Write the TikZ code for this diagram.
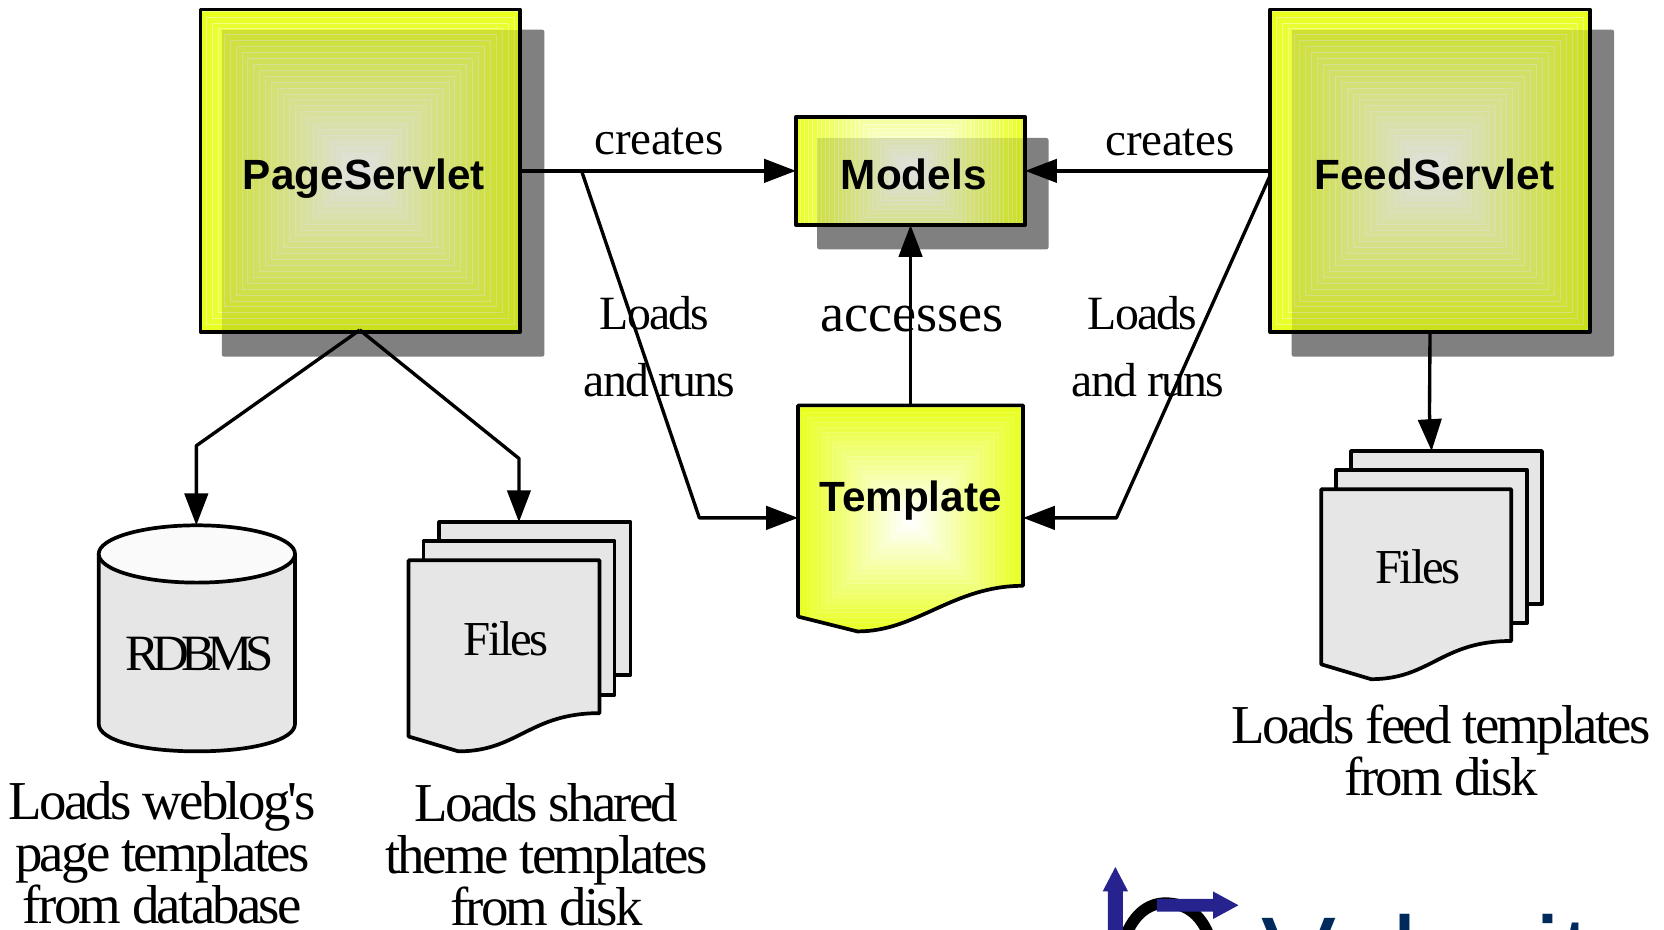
\documentclass[tikz,border=0pt]{standalone}
\usepackage{fontspec}
\newfontfamily\serfam{Liberation Serif}
\newfontfamily\boldfam{Liberation Sans}[BoldFont={Liberation Sans Bold}]
\newfontfamily\logofam{Liberation Sans}
\setmainfont{Liberation Serif}
\usetikzlibrary{arrows.meta}
\definecolor{yl}{HTML}{E8FF20}
\definecolor{shadowgray}{HTML}{808080}
\definecolor{docgray}{HTML}{E6E6E6}
\definecolor{logonavy}{HTML}{002A5C}
\definecolor{logoblue}{HTML}{26228E}
\def\u{0.6pt}
\newcommand{\serf}[3]{\serfam\fontsize{#1}{#2}\selectfont\addfontfeature{LetterSpace=#3}}
\newcommand{\gradfill}[5]{% cx, cy, half size, steps, line opacity
  \foreach \i in {0,...,#4}{%
    \pgfmathsetmacro{\hh}{#3*(1-\i/(#4+1))}%
    \pgfmathsetmacro{\pp}{100*\i/#4}%
    \fill[white!\pp!yl] ({#1-\hh},{#2-\hh}) rectangle ({#1+\hh},{#2+\hh});%
    \draw[white,opacity=#5,line width=.5pt] ({#1-\hh},{#2-\hh}) rectangle ({#1+\hh},{#2+\hh});%
  }}
\newcommand{\shadowbox}[8]{% x0 y0 x1 y1 sx0 sy0 sx1 sy1
  \fill[shadowgray,rounded corners=1.2pt] (#5,#6) rectangle (#7,#8);
  \begin{scope}
    \clip (#1,#2) rectangle (#3,#4);
    \pgfmathsetmacro{\cx}{(#1+#3)/2}\pgfmathsetmacro{\cy}{(#2+#4)/2}\pgfmathsetmacro{\hw}{(#3-#1)/2}
    \gradfill{\cx}{\cy}{\hw}{26}{.4}
    \fill[black,opacity=.12] (#5,#6) rectangle (#7,#8);
  \end{scope}
  \draw[boxline] (#1,#2) rectangle (#3,#4);
}
\newcommand{\docpath}[6]{(#1,#2) -- (#3,#2) -- (#3,#4) .. controls ({#3-66},#4) and ({#5+56},#6) .. (#5,#6) -- (#1,{#6-14}) -- cycle}
\tikzset{
  boxline/.style={draw=black,line width=2.1pt,line join=round},
  conn/.style={draw=black,line width=1.9pt,line join=round},
  arrowed/.style={conn,-{Triangle[length=30*\u,width=22*\u]}},
  anchorbox/.style={inner sep=0pt,outer sep=0pt,draw=none,fill=none},
  titletext/.style={inner sep=0pt,anchor=base,font=\boldfam\bfseries\fontsize{23.9pt}{28pt}\selectfont},
  note/.style={inner sep=0pt,align=center},
  caption/.style={inner sep=0pt,align=center,anchor=base,font=\serf{31pt}{29.4pt}{-5}},
  docfill/.style={fill=docgray,boxline},
}
\begin{document}
\begin{tikzpicture}[x=0.6pt,y=-0.6pt]
\useasboundingbox (0,0) rectangle (1568,876);
\begin{scope}
\clip (0,0) rectangle (1568,876);
% logo
\draw[black,line width=6.5pt] (1058,890) .. controls (1066,862) and (1082,851) .. (1098,851) .. controls (1118,851) and (1134,862) .. (1142,890);
\fill[logoblue] (1044,880) -- (1044,840) -- (1039,840) -- (1051,817) -- (1063,840) -- (1058,840) -- (1058,880) -- cycle;
\fill[logoblue] (1090,847) -- (1143,847) -- (1143,840) -- (1167,853) -- (1143,866) -- (1143,859) -- (1090,859) -- cycle;
\node[anchor=base west,inner sep=0pt,text=logonavy,font=\logofam\fontsize{63.4pt}{70pt}\selectfont] (logo) at (1188,938) {Velocity};
\end{scope}

% named anchors
\node[anchorbox,minimum width=301*\u,minimum height=304*\u] (page) at (339.5,161) {};
\node[anchorbox,minimum width=216*\u,minimum height=102*\u] (models) at (858,161) {};
\node[anchorbox,minimum width=301*\u,minimum height=304*\u] (feed) at (1347.5,161) {};
\node[anchorbox,minimum width=212*\u,minimum height=213*\u] (template) at (858,488) {};
\node[anchorbox,minimum width=185*\u,minimum height=213*\u] (rdbms) at (185.5,601.5) {};
\node[anchorbox,minimum width=209*\u,minimum height=216*\u] (files) at (489.5,600) {};
\node[anchorbox,minimum width=208*\u,minimum height=215*\u] (feedfiles) at (1349,532.5) {};

% boxes
\shadowbox{189}{9}{490}{313}{209}{28}{513}{336}
\shadowbox{750}{110}{966}{212}{770}{130}{988}{235}
\shadowbox{1197}{9}{1498}{313}{1217}{28}{1521}{336}

% template
\begin{scope}
  \clip \docpath{752}{382}{964}{552}{808}{595};
  \fill[yl] (752,382) rectangle (964,595);
  \gradfill{858}{490}{106}{22}{.15}
\end{scope}
\draw[boxline] \docpath{752}{382}{964}{552}{808}{595};

% cylinder
\draw[docfill] (93,522) -- (93,682) .. controls (93,698) and (135,708) .. (185.5,708) .. controls (236,708) and (278,698) .. (278,682) -- (278,522) -- cycle;
\draw[boxline,fill=white!98!black] (185.5,522) ellipse [x radius=92.5*\u,y radius=27*\u];

% files left
\draw[docfill] (414,492) rectangle (594,636);
\draw[docfill] (399,510) rectangle (579,655);
\draw[docfill] \docpath{385}{528}{565}{672}{432}{708};
% files right
\draw[docfill] (1273,425) rectangle (1453,569);
\draw[docfill] (1259,443) rectangle (1439,587);
\draw[docfill] \docpath{1245}{461}{1424}{604}{1292}{640};

% connectors
\coordinate (bendA) at (548,161);
\coordinate (bendB) at (659,488);
\coordinate (bendC) at (1197,165);
\coordinate (bendD) at (1052,488);
\coordinate (bendE) at (185,420);
\coordinate (bendF) at (489,432);
\coordinate (filesIn) at (489,492);
\coordinate (feedIn) at (1349,425);
\coordinate (feedBend) at (1347,390);
\coordinate (pageTip) at (339,311);
\draw[arrowed] (page.east) -- (models.west);
\draw[arrowed] (feed.west) -- (models.east);
\draw[arrowed] (bendA) -- (bendB) -- (template.west);
\draw[arrowed] (bendC) -- (bendD) -- (template.east);
\draw[arrowed] (template.north) -- (models.south);
\draw[arrowed] (pageTip) -- (bendE) -- (rdbms.north -| bendE);
\draw[arrowed] (pageTip) -- (bendF) -- (filesIn);
\draw[arrowed] (feed.south) -- (feedBend) -- (feedIn);

% titles
\node[titletext] (t1) at (343,179) {PageServlet};
\node[titletext] (t2) at (861,179) {Models};
\node[titletext] (t3) at (1351.5,179) {FeedServlet};
\node[titletext] (t4) at (858,482) {Template};

% labels
\node[note] (l1) at (621,133) {\serf{26.6pt}{30pt}{-0.5}creates};
\node[note] (l2) at (1102.5,134) {\serf{26.6pt}{30pt}{-0.5}creates};
\node[note] (l3) at (616.5,295) {\serf{27pt}{30pt}{-4}Loads};
\node[note] (l4) at (621.5,358) {\serf{27pt}{30pt}{-4}and runs};
\node[note] (l5) at (1076.5,295) {\serf{27pt}{30pt}{-4}Loads};
\node[note] (l6) at (1081.5,358) {\serf{27pt}{30pt}{-4}and runs};
\node[note] (l7) at (859.5,301) {\serf{30.6pt}{30pt}{0}accesses};
\node[note] (l8) at (188,616) {\serf{28.8pt}{30pt}{-15}RDBMS};
\node[note] (l9) at (477,602) {\serf{27.6pt}{30pt}{-5}Files};
\node[note] (l10) at (1336,534) {\serf{27.6pt}{30pt}{-5}Files};
\node[caption] (c1) at (153,870) {Loads weblog's\\page templates\\from database};
\node[caption] (c2) at (515,872) {Loads shared\\theme templates\\from disk};
\node[caption] (c3) at (1358,750) {Loads feed templates\\from disk};
\end{tikzpicture}
\end{document}
